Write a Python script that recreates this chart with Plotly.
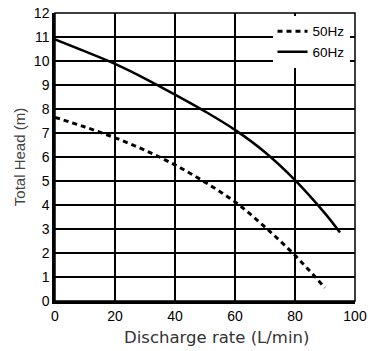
import plotly.graph_objects as go

flow_50 = [0, 10, 20, 30, 40, 50, 60, 70, 80, 90]
head_50 = [7.65, 7.25, 6.8, 6.28, 5.67, 4.95, 4.13, 3.08, 1.9, 0.55]
flow_60 = [0, 10, 20, 30, 40, 50, 60, 70, 80, 90, 95]
head_60 = [10.9, 10.4, 9.88, 9.27, 8.6, 7.9, 7.13, 6.2, 5.04, 3.65, 2.85]
x_ticks = [0, 20, 40, 60, 80, 100]
y_ticks = list(range(0, 13))
x_title = "Discharge rate (L/min)"
y_title = "Total Head (m)"

fig = go.Figure()
fig.add_trace(go.Scatter(x=flow_50, y=head_50, mode="lines", name="50Hz",
                         line=dict(color="black", width=3, dash="5px,4px", shape="spline")))
fig.add_trace(go.Scatter(x=flow_60, y=head_60, mode="lines", name="60Hz",
                         line=dict(color="black", width=2.5, shape="spline")))

fig.update_layout(
    width=377, height=351,
    margin=dict(l=55, r=22, t=13, b=50),
    paper_bgcolor="white", plot_bgcolor="white",
    font=dict(family="Liberation Sans", size=14, color="black"),
    showlegend=True,
    legend=dict(x=0.725, y=0.99, xanchor="left", yanchor="top", bgcolor="white",
                borderwidth=0, font=dict(family="Liberation Sans", size=13.5, color="black"),
                tracegroupgap=0, itemwidth=30),
    xaxis=dict(range=[0, 100], tickvals=x_ticks, showgrid=True, gridcolor="black", gridwidth=1.5,
               showline=True, linecolor="black", linewidth=2.5, ticks="", zeroline=False,
               automargin=False,
               tickfont=dict(family="Liberation Sans", size=14, color="black")),
    yaxis=dict(range=[0, 12], tickvals=y_ticks, showgrid=True, gridcolor="black", gridwidth=1.5,
               showline=True, linecolor="black", linewidth=2.5, ticks="", zeroline=False,
               automargin=False,
               tickfont=dict(family="Liberation Sans", size=14, color="black"),
               title=dict(text=y_title, standoff=5,
                          font=dict(family="Liberation Sans", size=15, color="#444444"))),
)
fig.add_annotation(text=x_title, xref="paper", yref="paper", x=0.537, y=-0.125,
                   xanchor="center", yanchor="middle", showarrow=False,
                   font=dict(family="DejaVu Sans", size=16.5, color="#333333"))
fig.add_shape(type="rect", xref="paper", yref="paper", x0=0, y0=0, x1=1, y1=1,
              line=dict(color="black", width=1.5), layer="above")
fig.write_html("out.html", config={"displayModeBar": False},
               post_script="document.body.style.margin='0px';")
